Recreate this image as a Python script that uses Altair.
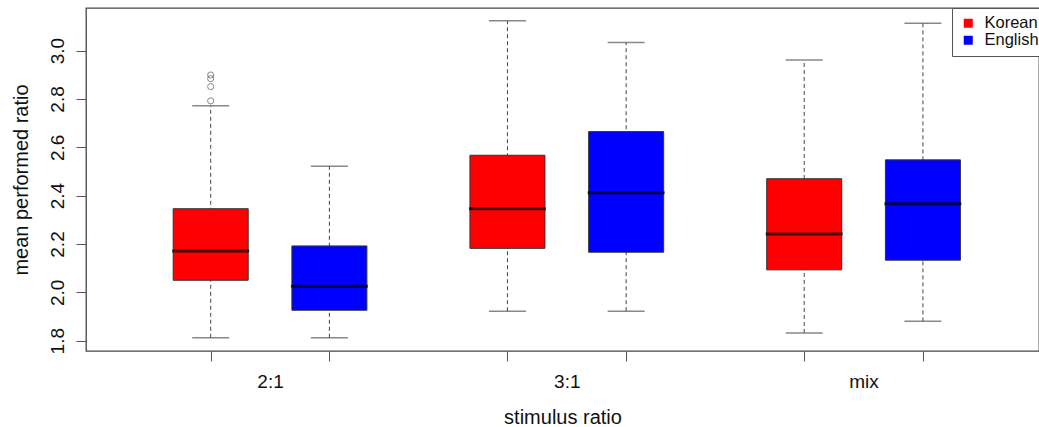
import altair as alt
import pandas as pd

# ---- data ----
groups = ["2:1", "2:1", "3:1", "3:1", "mix", "mix"]
languages = ["Korean", "English", "Korean", "English", "Korean", "English"]
positions = [1, 2, 3.5, 4.5, 6, 7]
lower_whisker = [1.812, 1.812, 1.922, 1.922, 1.832, 1.880]
q1 = [2.050, 1.926, 2.182, 2.166, 2.093, 2.133]
medians = [2.171, 2.025, 2.346, 2.412, 2.241, 2.367]
q3 = [2.346, 2.192, 2.567, 2.665, 2.470, 2.548]
upper_whisker = [2.772, 2.522, 3.123, 3.033, 2.961, 3.113]

outlier_positions = [1, 1, 1, 1]
outlier_values = [2.792, 2.851, 2.884, 2.899]

group_labels = ["2:1", "3:1", "mix"]
group_centers = [1.5, 4.0, 6.5]
legend_labels = ["Korean", "English"]
legend_colors = ["#ff0000", "#0000ff"]
y_ticks = [1.8, 2.0, 2.2, 2.4, 2.6, 2.8, 3.0]

df = pd.DataFrame({
    "group": groups, "lang": languages, "pos": positions,
    "lower": lower_whisker, "q1": q1, "median": medians,
    "q3": q3, "upper": upper_whisker,
})
out_df = pd.DataFrame({"pos": outlier_positions, "value": outlier_values})

FONT = "Liberation Sans"
HALF_BOX = 0.316

xscale = alt.Scale(domain=[-0.0505, 7.978], nice=False, zero=False)
yscale = alt.Scale(domain=[1.7574, 3.1762], nice=False, zero=False)

tick_vals = sorted(positions + group_centers)
label_expr = " : ".join(
    f"datum.value == {c} ? '{l}'" for c, l in zip(group_centers, group_labels)
) + " : ''"

x_axis = alt.Axis(
    values=tick_vals, labelExpr=label_expr, labelAngle=0, labelOverlap=False,
    tickSize=10, labelPadding=11, grid=False, domain=False,
    tickOpacity={"condition": {"test": f"indexof({group_centers}, datum.value) >= 0", "value": 0}, "value": 1},
    title="stimulus ratio", titlePadding=16,
)
y_axis = alt.Axis(
    values=y_ticks, format=".1f", labelAngle=-90, tickSize=10, labelPadding=9,
    grid=False, domain=False, title="mean performed ratio", titlePadding=17,
)

X = lambda f: alt.X(f, scale=xscale, axis=x_axis)
Y = lambda f: alt.Y(f, scale=yscale, axis=y_axis)

base = alt.Chart(df)

whiskers = base.mark_rule(color="#444", strokeDash=[4, 3], strokeWidth=1).encode(
    x=X("pos:Q"), y=Y("lower:Q"), y2="upper:Q"
)
caps_low = base.mark_tick(orient="horizontal", size=37, thickness=1.5, color="#555").encode(
    x=X("pos:Q"), y=Y("lower:Q")
)
caps_up = base.mark_tick(orient="horizontal", size=37, thickness=1.5, color="#555").encode(
    x=X("pos:Q"), y=Y("upper:Q")
)
boxes = base.transform_calculate(
    xl=f"datum.pos - {HALF_BOX}", xr=f"datum.pos + {HALF_BOX}"
).mark_rect(stroke="#333", strokeWidth=1).encode(
    x=X("xl:Q"), x2="xr:Q", y=Y("q1:Q"), y2="q3:Q",
    color=alt.Color(
        "lang:N",
        scale=alt.Scale(domain=legend_labels, range=legend_colors),
        legend=alt.Legend(
            orient="none", legendX=866, legendY=0, direction="vertical", title=None,
            symbolType="square", symbolSize=81, symbolStrokeWidth=0,
            labelFontSize=16.5, labelFont=FONT, labelColor="#111", labelOffset=8,
            padding=7, rowPadding=-2.5, symbolOffset=1,
            strokeColor="#555", fillColor="white", labelLimit=300,
        ),
    ),
)
med = base.mark_tick(orient="horizontal", size=77, thickness=3, color="black").encode(
    x=X("pos:Q"), y=Y("median:Q")
)
outliers = alt.Chart(out_df).mark_point(
    shape="circle", filled=False, size=38, color="#555", strokeWidth=1
).encode(x=X("pos:Q"), y=Y("value:Q"))

chart = alt.layer(whiskers, caps_low, caps_up, boxes, med, outliers).properties(
    width=953, height=343,
    background="white",
    autosize=alt.AutoSizeParams(type="none"),
    padding={"left": 86, "top": 8, "right": 0, "bottom": 76},
).configure_view(
    stroke="#444", strokeWidth=1.3
).configure_axis(
    labelFont=FONT, titleFont=FONT, labelFontSize=19, titleFontSize=20,
    titleFontWeight="normal", labelColor="#111", titleColor="#111",
    tickColor="#555", tickWidth=1,
)

chart.save("out.html", embed_options={"renderer": "svg", "actions": False})
